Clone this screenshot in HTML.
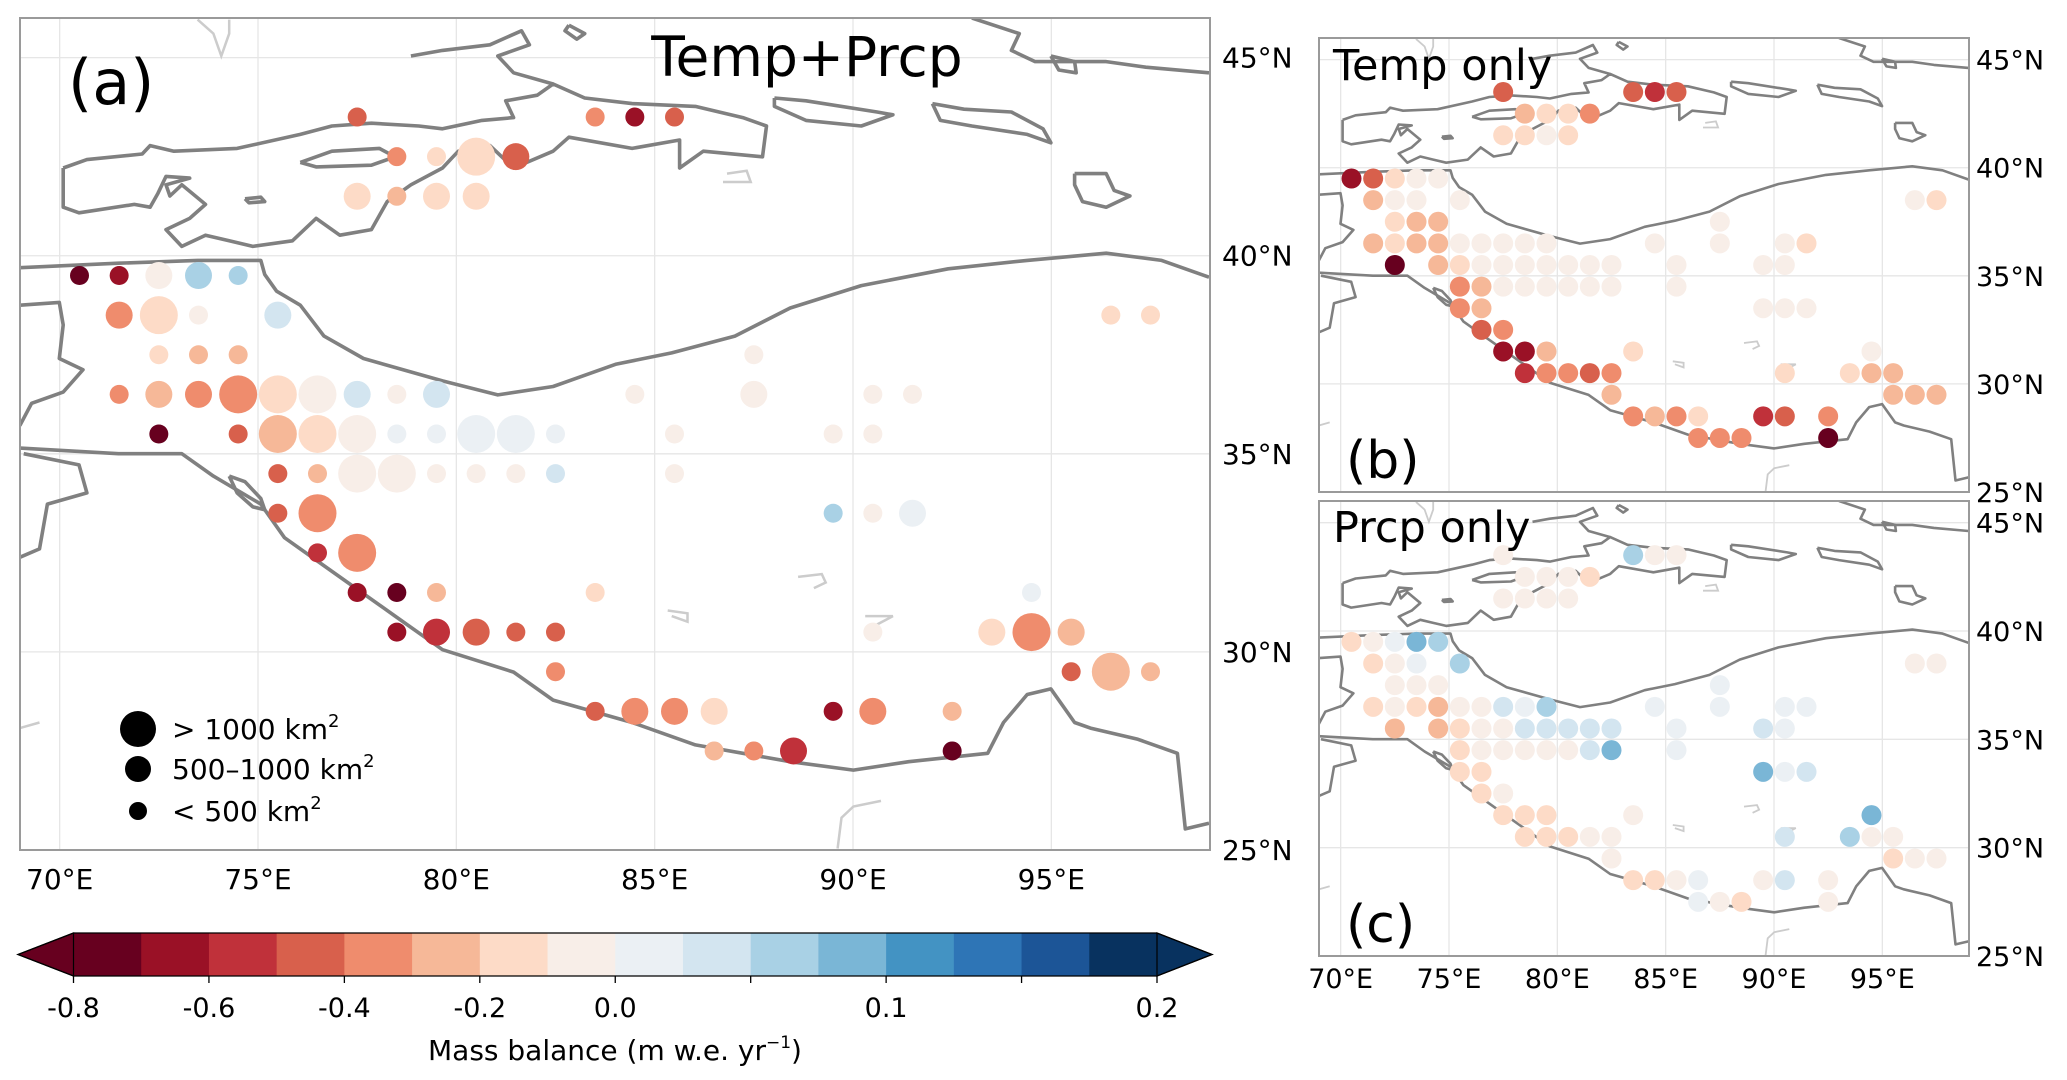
<!DOCTYPE html>
<html><head><meta charset="utf-8">
<style>
html,body{margin:0;padding:0;background:#fff;}
svg{display:block;}
text{font-family:"DejaVu Sans","Liberation Sans",sans-serif;fill:#000;}
</style></head>
<body>
<svg id="fig" width="2067" height="1080" viewBox="0 0 2067 1080" xmlns="http://www.w3.org/2000/svg"></svg>
<script>
// ---------- DATA ----------
const cbBounds = [-0.8,-0.7,-0.6,-0.5,-0.4,-0.3,-0.2,-0.1,0.0,0.025,0.05,0.075,0.1,0.125,0.15,0.175,0.2];
const cbColors = ["#67001f","#9a1126","#c0313a","#d8604c","#ef8c6d","#f6b898","#fddbc7","#f8eee8","#ebf0f4","#d3e5f0","#a9d1e5","#7ab6d6","#4393c3","#2e75b6","#1c5597","#08325f"];
const cbTickVals = [-0.8,-0.6,-0.4,-0.2,0.0,0.05,0.1,0.15,0.2];
const cbTickLabels = ["-0.8","-0.6","-0.4","-0.2","0.0","","0.1","","0.2"];
const lonTicks = [70,75,80,85,90,95];
const latTicks = [25,30,35,40,45];
// Panel (a): [lon, lat, mass balance, size class 0=<500,1=500-1000,2=>1000]
const aPoints = [
[77.5,43.5,-0.45,0],[83.5,43.5,-0.35,0],[84.5,43.5,-0.65,0],[85.5,43.5,-0.45,0],
[78.5,42.5,-0.35,0],[79.5,42.5,-0.15,0],[80.5,42.5,-0.15,2],[81.5,42.5,-0.45,1],
[77.5,41.5,-0.15,1],[78.5,41.5,-0.25,0],[79.5,41.5,-0.15,1],[80.5,41.5,-0.15,1],
[70.5,39.5,-0.75,0],[71.5,39.5,-0.65,0],[72.5,39.5,-0.05,1],[73.5,39.5,0.0625,1],[74.5,39.5,0.0625,0],
[71.5,38.5,-0.35,1],[72.5,38.5,-0.15,2],[73.5,38.5,-0.05,0],[75.5,38.5,0.0375,1],[96.5,38.5,-0.15,0],[97.5,38.5,-0.15,0],
[72.5,37.5,-0.15,0],[73.5,37.5,-0.25,0],[74.5,37.5,-0.25,0],[87.5,37.5,-0.05,0],
[71.5,36.5,-0.35,0],[72.5,36.5,-0.25,1],[73.5,36.5,-0.35,1],[74.5,36.5,-0.35,2],[75.5,36.5,-0.15,2],[76.5,36.5,-0.05,2],[77.5,36.5,0.0375,1],[78.5,36.5,-0.05,0],[79.5,36.5,0.0375,1],[84.5,36.5,-0.05,0],[87.5,36.5,-0.05,1],[90.5,36.5,-0.05,0],[91.5,36.5,-0.05,0],
[72.5,35.5,-0.75,0],[74.5,35.5,-0.45,0],[75.5,35.5,-0.25,2],[76.5,35.5,-0.15,2],[77.5,35.5,-0.05,2],[78.5,35.5,0.0125,0],[79.5,35.5,0.0125,0],[80.5,35.5,0.0125,2],[81.5,35.5,0.0125,2],[82.5,35.5,0.0125,0],[85.5,35.5,-0.05,0],[89.5,35.5,-0.05,0],[90.5,35.5,-0.05,0],
[75.5,34.5,-0.45,0],[76.5,34.5,-0.25,0],[77.5,34.5,-0.05,2],[78.5,34.5,-0.05,2],[79.5,34.5,-0.05,0],[80.5,34.5,-0.05,0],[81.5,34.5,-0.05,0],[82.5,34.5,0.0375,0],[85.5,34.5,-0.05,0],
[75.5,33.5,-0.45,0],[76.5,33.5,-0.35,2],[89.5,33.5,0.0625,0],[90.5,33.5,-0.05,0],[91.5,33.5,0.0125,1],
[76.5,32.5,-0.55,0],[77.5,32.5,-0.35,2],
[77.5,31.5,-0.65,0],[78.5,31.5,-0.75,0],[79.5,31.5,-0.25,0],[83.5,31.5,-0.15,0],[94.5,31.5,0.0125,0],
[78.5,30.5,-0.65,0],[79.5,30.5,-0.55,1],[80.5,30.5,-0.45,1],[81.5,30.5,-0.45,0],[82.5,30.5,-0.45,0],[90.5,30.5,-0.05,0],[93.5,30.5,-0.15,1],[94.5,30.5,-0.35,2],[95.5,30.5,-0.25,1],
[82.5,29.5,-0.35,0],[95.5,29.5,-0.45,0],[96.5,29.5,-0.25,2],[97.5,29.5,-0.25,0],
[83.5,28.5,-0.45,0],[84.5,28.5,-0.35,1],[85.5,28.5,-0.35,1],[86.5,28.5,-0.15,1],[89.5,28.5,-0.65,0],[90.5,28.5,-0.35,1],[92.5,28.5,-0.25,0],
[86.5,27.5,-0.25,0],[87.5,27.5,-0.35,0],[88.5,27.5,-0.55,1],[92.5,27.5,-0.75,0]
];
const bPoints = [
[77.5,43.5,-0.45],[83.5,43.5,-0.45],[84.5,43.5,-0.55],[85.5,43.5,-0.45],
[78.5,42.5,-0.25],[79.5,42.5,-0.15],[80.5,42.5,-0.15],[81.5,42.5,-0.35],
[77.5,41.5,-0.15],[78.5,41.5,-0.15],[79.5,41.5,-0.05],[80.5,41.5,-0.15],
[70.5,39.5,-0.65],[71.5,39.5,-0.45],[72.5,39.5,-0.15],[73.5,39.5,-0.05],[74.5,39.5,-0.05],
[71.5,38.5,-0.25],[72.5,38.5,-0.05],[73.5,38.5,-0.05],[75.5,38.5,-0.05],[96.5,38.5,-0.05],[97.5,38.5,-0.15],
[72.5,37.5,-0.15],[73.5,37.5,-0.25],[74.5,37.5,-0.25],[87.5,37.5,-0.05],
[71.5,36.5,-0.25],[72.5,36.5,-0.15],[73.5,36.5,-0.25],[74.5,36.5,-0.25],[75.5,36.5,-0.05],[76.5,36.5,-0.05],[77.5,36.5,-0.05],[78.5,36.5,-0.05],[79.5,36.5,-0.05],[84.5,36.5,-0.05],[87.5,36.5,-0.05],[90.5,36.5,-0.05],[91.5,36.5,-0.15],
[72.5,35.5,-0.75],[74.5,35.5,-0.25],[75.5,35.5,-0.15],[76.5,35.5,-0.05],[77.5,35.5,-0.05],[78.5,35.5,-0.05],[79.5,35.5,-0.05],[80.5,35.5,-0.05],[81.5,35.5,-0.05],[82.5,35.5,-0.05],[85.5,35.5,-0.05],[89.5,35.5,-0.05],[90.5,35.5,-0.05],
[75.5,34.5,-0.35],[76.5,34.5,-0.25],[77.5,34.5,-0.05],[78.5,34.5,-0.05],[79.5,34.5,-0.05],[80.5,34.5,-0.05],[81.5,34.5,-0.05],[82.5,34.5,-0.05],[85.5,34.5,-0.05],
[75.5,33.5,-0.35],[76.5,33.5,-0.25],[89.5,33.5,-0.05],[90.5,33.5,-0.05],[91.5,33.5,-0.05],
[76.5,32.5,-0.45],[77.5,32.5,-0.35],
[77.5,31.5,-0.65],[78.5,31.5,-0.65],[79.5,31.5,-0.25],[83.5,31.5,-0.15],[94.5,31.5,-0.05],
[78.5,30.5,-0.55],[79.5,30.5,-0.35],[80.5,30.5,-0.35],[81.5,30.5,-0.45],[82.5,30.5,-0.35],[90.5,30.5,-0.15],[93.5,30.5,-0.15],[94.5,30.5,-0.25],[95.5,30.5,-0.25],
[82.5,29.5,-0.25],[95.5,29.5,-0.25],[96.5,29.5,-0.25],[97.5,29.5,-0.25],
[83.5,28.5,-0.35],[84.5,28.5,-0.25],[85.5,28.5,-0.35],[86.5,28.5,-0.15],[89.5,28.5,-0.55],[90.5,28.5,-0.45],[92.5,28.5,-0.35],
[86.5,27.5,-0.35],[87.5,27.5,-0.35],[88.5,27.5,-0.35],[92.5,27.5,-0.75]
];
const cPoints = [
[77.5,43.5,-0.05],[83.5,43.5,0.0625],[84.5,43.5,-0.05],[85.5,43.5,-0.05],
[78.5,42.5,-0.05],[79.5,42.5,-0.05],[80.5,42.5,-0.05],[81.5,42.5,-0.15],
[77.5,41.5,-0.05],[78.5,41.5,-0.05],[79.5,41.5,-0.05],[80.5,41.5,-0.05],
[70.5,39.5,-0.15],[71.5,39.5,-0.05],[72.5,39.5,0.0125],[73.5,39.5,0.0875],[74.5,39.5,0.0625],
[71.5,38.5,-0.15],[72.5,38.5,-0.05],[73.5,38.5,0.0125],[75.5,38.5,0.0625],[96.5,38.5,-0.05],[97.5,38.5,-0.05],
[72.5,37.5,-0.05],[73.5,37.5,-0.05],[74.5,37.5,-0.05],[87.5,37.5,0.0125],
[71.5,36.5,-0.15],[72.5,36.5,-0.05],[73.5,36.5,-0.15],[74.5,36.5,-0.25],[75.5,36.5,-0.05],[76.5,36.5,-0.05],[77.5,36.5,0.0375],[78.5,36.5,0.0125],[79.5,36.5,0.0625],[84.5,36.5,0.0125],[87.5,36.5,0.0125],[90.5,36.5,0.0125],[91.5,36.5,0.0125],
[72.5,35.5,-0.25],[74.5,35.5,-0.25],[75.5,35.5,-0.15],[76.5,35.5,-0.05],[77.5,35.5,-0.05],[78.5,35.5,0.0375],[79.5,35.5,0.0375],[80.5,35.5,0.0375],[81.5,35.5,0.0375],[82.5,35.5,0.0375],[85.5,35.5,0.0125],[89.5,35.5,0.0375],[90.5,35.5,0.0125],
[75.5,34.5,-0.15],[76.5,34.5,-0.05],[77.5,34.5,-0.05],[78.5,34.5,-0.05],[79.5,34.5,-0.05],[80.5,34.5,-0.05],[81.5,34.5,0.0375],[82.5,34.5,0.0875],[85.5,34.5,0.0125],
[75.5,33.5,-0.15],[76.5,33.5,-0.15],[89.5,33.5,0.0875],[90.5,33.5,0.0125],[91.5,33.5,0.0375],
[76.5,32.5,-0.15],[77.5,32.5,-0.05],
[77.5,31.5,-0.15],[78.5,31.5,-0.15],[79.5,31.5,-0.15],[83.5,31.5,-0.05],[94.5,31.5,0.0875],
[78.5,30.5,-0.15],[79.5,30.5,-0.15],[80.5,30.5,-0.15],[81.5,30.5,-0.05],[82.5,30.5,-0.05],[90.5,30.5,0.0375],[93.5,30.5,0.0625],[94.5,30.5,-0.05],[95.5,30.5,-0.05],
[82.5,29.5,-0.05],[95.5,29.5,-0.15],[96.5,29.5,-0.05],[97.5,29.5,-0.05],
[83.5,28.5,-0.15],[84.5,28.5,-0.15],[85.5,28.5,-0.05],[86.5,28.5,0.0125],[89.5,28.5,-0.05],[90.5,28.5,0.0375],[92.5,28.5,-0.05],
[86.5,27.5,0.0125],[87.5,27.5,-0.05],[88.5,27.5,-0.15],[92.5,27.5,-0.05]
];
// ---------- MAP GEOMETRY ----------
const coastSketch = [
 [[25,478],[150,470],[250,465],[330,465],[335,490],[350,520],[380,545],[410,600],[460,640],[560,680],[630,705],[700,690],[780,650],[850,630],[930,600],[1000,550],[1090,510],[1200,480],[1300,465],[1400,452],[1470,465],[1530,495]],
 [[25,800],[150,810],[230,810],[270,850],[330,900],[360,960],[400,1000],[450,1050],[500,1100],[560,1160],[650,1200],[700,1250],[800,1290],[880,1330],[1000,1360],[1080,1375],[1150,1360],[1250,1345],[1270,1290],[1300,1240],[1330,1230],[1360,1290],[1380,1300],[1440,1320],[1490,1345],[1500,1480],[1530,1470]],
 [[30,810],[100,830],[110,880],[60,900],[50,980],[25,995]],
 [[25,545],[75,540],[80,580],[75,640],[105,660],[80,700],[40,720],[25,760]],
 [[290,850],[310,860],[330,890],[335,910],[320,905],[300,880],[290,850]],
 [[80,300],[110,285],[180,275],[190,260],[220,270],[300,265],[380,240],[420,225],[470,220],[530,225],[560,230],[610,215],[650,210],[640,180],[680,170],[700,150],[740,175],[800,185],[880,190],[940,210],[970,225],[965,280],[890,270],[860,300],[860,250],[800,265],[720,245],[700,270],[650,300],[620,260],[580,270],[560,300],[520,330],[490,360],[470,410],[430,420],[400,390],[370,430],[320,440],[290,430],[260,420],[230,440],[210,410],[240,390],[260,365],[230,330],[215,350],[210,330],[240,318],[210,315],[200,345],[190,370],[170,365],[100,380],[80,370],[80,300]],
 [[380,290],[420,270],[480,265],[500,280],[470,295],[400,298],[380,290]],
 [[520,100],[560,90],[620,80],[660,55],[670,80],[630,100],[650,130],[700,150]],
 [[1230,32],[1290,60],[1280,90],[1310,110],[1400,110],[1450,120],[1530,130]],
 [[1180,185],[1190,215],[1230,225],[1300,240],[1330,255],[1320,230],[1280,200],[1220,195],[1180,185]],
 [[980,175],[1020,180],[1110,200],[1130,205],[1090,225],[1020,215],[980,190],[980,175]],
 [[1330,100],[1360,110],[1362,130],[1340,125],[1330,100]],
 [[1360,310],[1400,310],[1410,340],[1430,350],[1400,370],[1370,360],[1360,330],[1360,310]],
 [[720,45],[740,60],[730,70],[715,55],[720,45]],
 [[310,355],[330,352],[335,360],[315,362],[310,355]]
];
const borderSketch = [
 [[250,35],[270,60],[280,100],[290,60],[290,35]],
 [[920,310],[945,305],[950,325],[915,325]],
 [[1010,1030],[1040,1025],[1045,1040],[1030,1050]],
 [[845,1090],[870,1095],[870,1110],[850,1100]],
 [[1095,1100],[1130,1100],[1110,1115],[1100,1140]],
 [[1060,1515],[1065,1460],[1080,1440],[1115,1430]],
 [[25,1300],[50,1290]]
];
function sk2ll(p){ return [69 + (p[0]/1.2645 - 20)/39.7, 46 - (p[1]/1.782 - 18)/39.7]; }

// ---------- DRAWING ----------
const NS = "http://www.w3.org/2000/svg";
const svg = document.getElementById('fig');
function mk(tag, attrs, parent){ const e=document.createElementNS(NS,tag); for(const k in attrs) e.setAttribute(k,attrs[k]); (parent||svg).appendChild(e); return e; }
function colorFor(v){ for(let i=0;i<cbColors.length;i++){ if(v<cbBounds[i+1]) return cbColors[i]; } return cbColors[cbColors.length-1]; }

const panels = {
 a:{x0:20,x1:1210,y0:18,y1:850},
 b:{x0:1319,x1:1969,y0:38,y1:492},
 c:{x0:1319,x1:1969,y0:501,y1:956}
};
function xScale(P,lon){ return P.x0 + (lon-69)/30*(P.x1-P.x0); }
function yScale(P,lat){ return P.y0 + (46-lat)/21*(P.y1-P.y0); }

function drawPanel(key, P, sw){
  const g = mk('g',{});
  
  
  const cid='clip'+key;
  const cp=mk('clipPath',{id:cid},g); mk('rect',{x:P.x0,y:P.y0,width:P.x1-P.x0,height:P.y1-P.y0},cp);
  const inner = mk('g',{'clip-path':'url(#'+cid+')'},g);
  lonTicks.forEach(l=>{ const x=xScale(P,l); const ln=mk('line',{x1:x,x2:x,y1:P.y0,y2:P.y1,stroke:'#e6e6e6','stroke-width':1.3},inner);   });
  latTicks.forEach(l=>{ const y=yScale(P,l); const ln=mk('line',{x1:P.x0,x2:P.x1,y1:y,y2:y,stroke:'#e6e6e6','stroke-width':1.3},inner);   });
  borderSketch.forEach(line=>{ const d=line.map((p,i)=>{const ll=sk2ll(p);return (i?'L':'M')+xScale(P,ll[0]).toFixed(1)+','+yScale(P,ll[1]).toFixed(1);}).join(''); const pa=mk('path',{d:d,fill:'none',stroke:'#cccccc','stroke-width':sw*0.7},inner);   });
  coastSketch.forEach(line=>{ const d=line.map((p,i)=>{const ll=sk2ll(p);return (i?'L':'M')+xScale(P,ll[0]).toFixed(1)+','+yScale(P,ll[1]).toFixed(1);}).join(''); const pa=mk('path',{d:d,fill:'none',stroke:'#808080','stroke-width':sw,'stroke-linejoin':'round'},inner);   });
  return {g:g, inner:inner};
}
function frame(P){ const r=mk('rect',{x:P.x0,y:P.y0,width:P.x1-P.x0,height:P.y1-P.y0,fill:'none',stroke:'#9a9a9a','stroke-width':2});   }

const pa = drawPanel('a',panels.a,3.6);
const sizeR=[9.5,13.5,19];
aPoints.forEach(p=>{ const c=mk('circle',{cx:xScale(panels.a,p[0]),cy:yScale(panels.a,p[1]),r:sizeR[p[3]],fill:colorFor(p[2])},pa.inner);
  
   });
frame(panels.a);
const pb = drawPanel('b',panels.b,2.6);
bPoints.forEach(p=>{ const c=mk('circle',{cx:xScale(panels.b,p[0]),cy:yScale(panels.b,p[1]),r:10,fill:colorFor(p[2])},pb.inner);
  
   });
frame(panels.b);
const pc = drawPanel('c',panels.c,2.6);
cPoints.forEach(p=>{ const c=mk('circle',{cx:xScale(panels.c,p[0]),cy:yScale(panels.c,p[1]),r:10,fill:colorFor(p[2])},pc.inner);
  
   });
frame(panels.c);

function txt(s,x,y,size,anchor,name){ const t=mk('text',{x:x,y:y,'font-size':size,'text-anchor':anchor||'start'}); t.textContent=s;   return t; }
lonTicks.forEach(l=>{ txt(l+'°E',xScale(panels.a,l),889,28,'middle','x-tick-label-a'); txt(l+'°E',xScale(panels.c,l),988,27,'middle','x-tick-label-c'); });
latTicks.forEach(l=>{ txt(l+'°N',1222,yScale(panels.a,l)+10,28,'start','y-tick-label-a'); txt(l+'°N',1976,yScale(panels.b,l)+10,27,'start','y-tick-label-b'); txt(l+'°N',1976,yScale(panels.c,l)+10,27,'start','y-tick-label-c'); });

txt('(a)',68,104,62,'start','panel-label-a');
txt('Temp+Prcp',807,76,55,'middle','panel-title-a');
txt('Temp only',1333,80,43,'start','panel-title-b');
txt('(b)',1346,478,52,'start','panel-label-b');
txt('Prcp only',1333,542,43,'start','panel-title-c');
txt('(c)',1346,942,52,'start','panel-label-c');

const lg = mk('g',{});  
[[729,18,'> 1000 km'],[769,13,'500–1000 km'],[811,9,'< 500 km']].forEach(e=>{
  mk('circle',{cx:138,cy:e[0],r:e[1],fill:'#000'},lg);
  const t=mk('text',{x:172,y:e[0]+10,'font-size':28},lg); t.textContent=e[2];
   
  const s=mk('tspan',{'font-size':18,dy:-12},t); s.textContent='2';
});

const cb = mk('g',{});  
const cbX0=73.5, cbX1=1157, cbY0=933, cbY1=976;
const bw=(cbX1-cbX0)/cbColors.length;
function cbX(v){ for(let i=0;i<cbBounds.length-1;i++){ if(v<=cbBounds[i+1]) return cbX0+bw*(i+(v-cbBounds[i])/(cbBounds[i+1]-cbBounds[i])); } return cbX1; }
cbColors.forEach((c,i)=>{ const r=mk('rect',{x:cbX0+i*bw,y:cbY0,width:bw+0.5,height:cbY1-cbY0,fill:c},cb);   });
mk('polygon',{points:`${cbX0},${cbY0} ${cbX0},${cbY1} 18,${(cbY0+cbY1)/2}`,fill:cbColors[0],stroke:'#000','stroke-width':1.2},cb);
mk('polygon',{points:`${cbX1},${cbY0} ${cbX1},${cbY1} 1212,${(cbY0+cbY1)/2}`,fill:cbColors[15],stroke:'#000','stroke-width':1.2},cb);
mk('path',{d:`M${cbX0},${cbY0} L18,${(cbY0+cbY1)/2} L${cbX0},${cbY1} L${cbX1},${cbY1} L1212,${(cbY0+cbY1)/2} L${cbX1},${cbY0} Z`,fill:'none',stroke:'#000','stroke-width':1.3},cb);
cbTickVals.forEach((v,i)=>{ const x=cbX(v); mk('line',{x1:x,x2:x,y1:cbY1,y2:cbY1+7,stroke:'#000','stroke-width':1.3},cb);
  if(cbTickLabels[i]) txt(cbTickLabels[i],x,1017,27,'middle','colorbar-tick-label'); });
const ct=txt('Mass balance (m w.e. yr',615,1060,28,'middle','colorbar-title');
const sup=mk('tspan',{'font-size':17,dy:-12},ct); sup.textContent='−1';
const cl=mk('tspan',{'font-size':28,dy:12},ct); cl.textContent=')';
</script>
</body></html>
